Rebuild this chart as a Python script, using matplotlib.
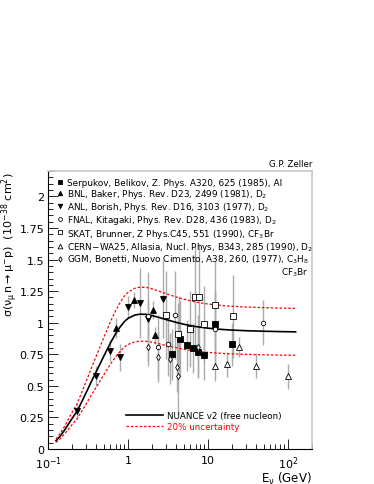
import numpy as np
import matplotlib
matplotlib.use('Agg')
import matplotlib.pyplot as plt
from matplotlib.lines import Line2D
from matplotlib.ticker import FixedLocator, MultipleLocator

plt.rcParams['font.family'] = ['DejaVu Sans']
plt.rcParams['mathtext.fontset'] = 'dejavusans'
plt.rcParams['mathtext.default'] = 'regular'

# NUANCE v2 prediction (free nucleon)
E_curve = [0.125, 0.14, 0.16, 0.18, 0.2, 0.23, 0.27, 0.3, 0.35, 0.4, 0.5, 0.6, 0.7,
           0.8, 0.9, 1.0, 1.2, 1.4, 1.7, 2.0, 2.5, 3.0, 4.0, 5.0, 7.0, 10, 15, 20,
           30, 50, 80, 125]
sig_curve = [0.066, 0.10, 0.15, 0.20, 0.245, 0.30, 0.39, 0.45, 0.54, 0.615, 0.74,
             0.84, 0.915, 0.97, 1.01, 1.035, 1.06, 1.068, 1.066, 1.057, 1.04, 1.025,
             1.003, 0.988, 0.97, 0.957, 0.947, 0.942, 0.937, 0.933, 0.93, 0.928]
band = 0.20

# experiments
serp_E = [3.5, 4.4, 5.5, 6.4, 7.5, 8.9, 12.3, 20.0]
serp_s = [0.75, 0.87, 0.82, 0.80, 0.77, 0.745, 0.99, 0.83]
serp_e = [0.20, 0.30, 0.20, 0.20, 0.20, 0.20, 0.25, 0.17]

bnl_E = [0.71, 1.19, 2.02, 2.2]
bnl_s = [0.96, 1.18, 1.10, 0.90]
bnl_e = [0.08, 0.06, 0.07, 0.07]

anl_E = [0.23, 0.40, 0.60, 0.80, 1.01, 1.39, 1.78, 2.74]
anl_s = [0.30, 0.58, 0.78, 0.725, 1.125, 1.157, 1.03, 1.19]
anl_e = [0.06, 0.08, 0.08, 0.11, 0.09, 0.28, 0.15, 0.31]

fnal_E = [1.75, 2.4, 3.15, 3.9, 4.3, 12.1, 49]
fnal_s = [1.05, 0.81, 0.83, 1.06, 0.91, 0.95, 1.0]
fnal_e = [0.35, 0.25, 0.25, 0.35, 0.30, 0.30, 0.18]

skat_E = [2.97, 4.2, 5.9, 6.9, 7.8, 8.9, 12.2, 20.5]
skat_s = [1.06, 0.91, 0.95, 1.205, 1.20, 0.99, 1.14, 1.05]
skat_e = [0.35, 0.25, 0.30, 0.40, 0.42, 0.30, 0.35, 0.33]

cern_E = [12.3, 17.2, 24.7, 39.5, 99]
cern_s = [0.66, 0.67, 0.81, 0.66, 0.577]
cern_e = [0.12, 0.10, 0.08, 0.10, 0.10]

ggm_E = [1.78, 2.36, 3.33, 4.14, 4.2, 7.4]
ggm_s = [0.81, 0.73, 0.715, 0.65, 0.58, 0.81]
ggm_e = [0.15, 0.20, 0.20, 0.20, 0.30, 0.25]

y_ticks = [0, 0.25, 0.5, 0.75, 1.0, 1.25, 1.5, 1.75, 2.0]
y_labels = ['0', '0.25', '0.5', '0.75', '1', '1.25', '1.5', '1.75', '2']
x_ticks = [0.1, 1, 10, 100]
x_labels = ['$10^{-1}$', '1', '10', '$10^{2}$']

fig = plt.figure(figsize=(3.74, 4.85), dpi=100)
ax = fig.add_axes([0.129, 0.072, 0.705, 0.573])

E_c = np.array(E_curve)
s_c = np.array(sig_curve)
ax.plot(E_c, s_c, color='black', lw=1.2, zorder=3)
ax.plot(E_c, s_c * (1 + band), color='red', lw=0.9, ls=(0, (2, 1.5)), zorder=3)
ax.plot(E_c, s_c * (1 - band), color='red', lw=0.9, ls=(0, (2, 1.5)), zorder=3)

sets = [
    (serp_E, serp_s, serp_e, 's', 'black', 3.8,
     'Serpukov, Belikov, Z. Phys. A320, 625 (1985), Al'),
    (bnl_E, bnl_s, bnl_e, '^', 'black', 3.8,
     'BNL, Baker, Phys. Rev. D23, 2499 (1981), D$_2$'),
    (anl_E, anl_s, anl_e, 'v', 'black', 3.8,
     'ANL, Borish, Phys. Rev. D16, 3103 (1977), D$_2$'),
    (fnal_E, fnal_s, fnal_e, 'o', 'white', 3.2,
     'FNAL, Kitagaki, Phys. Rev. D28, 436 (1983), D$_2$'),
    (skat_E, skat_s, skat_e, 's', 'white', 4.0,
     'SKAT, Brunner, Z Phys.C45, 551 (1990), CF$_3$Br'),
    (cern_E, cern_s, cern_e, '^', 'white', 4.0,
     'CERN\u2212WA25, Allasia, Nucl. Phys, B343, 285 (1990), D$_2$'),
    (ggm_E, ggm_s, ggm_e, 'd', 'white', 3.2,
     'GGM, Bonetti, Nuovo Cimento, A38, 260, (1977), C$_3$H$_8$'),
]

handles = []
for E, s, e, mk, fc, ms, lab in sets:
    ax.errorbar(E, s, yerr=e, fmt='none', ecolor='#ababab', elinewidth=1.0, zorder=2)
    ax.plot(E, s, ls='none', marker=mk, mfc=fc, mec='black', mew=0.6, ms=ms, zorder=4)
    handles.append(Line2D([], [], ls='none', marker=mk, mfc=fc, mec='black',
                          mew=0.6, ms=ms * 0.85, label=lab))

leg1 = ax.legend(handles=handles, loc='upper left', bbox_to_anchor=(0.01, 0.995),
                 frameon=False, fontsize=6.4, handlelength=0.8, handletextpad=0.45,
                 labelspacing=0.02, borderaxespad=0.2)
ax.add_artist(leg1)
ax.text(0.985, 0.637, 'CF$_3$Br', transform=ax.transAxes, ha='right', va='center',
        fontsize=6.4)

h_line = Line2D([], [], color='black', lw=1.2, label='NUANCE v2 (free nucleon)')
h_band = Line2D([], [], color='red', lw=0.9, ls=(0, (2, 1.5)), label='20% uncertainty')
leg2 = ax.legend(handles=[h_line, h_band], loc='lower left',
                 bbox_to_anchor=(0.265, 0.035), frameon=False, fontsize=6.3,
                 handlelength=4.2, handletextpad=0.5, labelspacing=0.3)
leg2.get_texts()[1].set_color('red')

ax.set_xscale('log')
ax.set_xlim(0.1, 200)
ax.set_ylim(0, 2.2)
ax.xaxis.set_major_locator(FixedLocator(x_ticks))
ax.set_xticklabels(x_labels)
ax.yaxis.set_major_locator(FixedLocator(y_ticks))
ax.set_yticklabels(y_labels)
ax.yaxis.set_minor_locator(MultipleLocator(0.05))
ax.tick_params(which='both', direction='in', top=False, right=False, labelsize=8)
ax.tick_params(which='major', length=7, width=0.6)
ax.tick_params(which='minor', length=3.5, width=0.6)
ax.tick_params(axis='x', pad=4)
ax.tick_params(axis='y', pad=3)

for side in ['top', 'right']:
    ax.spines[side].set_color('#c8c8c8')
    ax.spines[side].set_linewidth(1.2)
for side in ['left', 'bottom']:
    ax.spines[side].set_linewidth(0.8)

ax.set_ylabel(r'$\sigma(\nu_{\mu}\, n \rightarrow \mu^{-} p)$  $(10^{-38}\ cm^{2})$',
              fontsize=8, loc='top')
ax.yaxis.set_label_coords(-0.108, 1.0)
ax.set_xlabel(r'E$_{\nu}$ (GeV)', fontsize=8.5, loc='right', labelpad=-1)
ax.text(1.0, 1.012, 'G.P. Zeller', transform=ax.transAxes, ha='right', va='bottom',
        fontsize=6.2)

fig.savefig('out.png', dpi=100)
